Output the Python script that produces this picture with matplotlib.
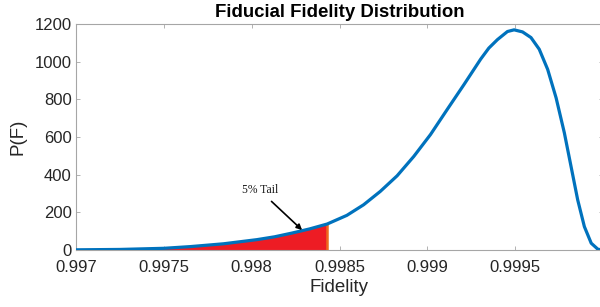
import matplotlib
matplotlib.use("Agg")
import matplotlib.pyplot as plt

# Curve
fidelity = [0.997000, 0.997250, 0.997500, 0.997650, 0.997840, 0.998030,
            0.998130, 0.998230, 0.998330, 0.998430, 0.998542, 0.998637,
            0.998732, 0.998828, 0.998923, 0.999018, 0.999113, 0.999209,
            0.999304, 0.999350, 0.999399, 0.999456, 0.999494, 0.999542,
            0.999590, 0.999637, 0.999685, 0.999733, 0.999780, 0.999818,
            0.999856, 0.999894, 0.999933, 0.999971, 1.000000]
density = [1, 3, 9, 18, 33, 55,
           70, 90, 112, 138, 184, 240,
           311, 394, 497, 613, 746, 879,
           1014, 1072, 1117, 1160, 1169, 1158,
           1128, 1066, 959, 808, 622, 444,
           266, 124, 36, 4, 0]

tail_cut = 0.99843
tail_label = "5% Tail"
x_ticks = [0.997, 0.9975, 0.998, 0.9985, 0.999, 0.9995]
x_tick_labels = ["0.997", "0.9975", "0.998", "0.9985", "0.999", "0.9995"]
y_ticks = [0, 200, 400, 600, 800, 1000, 1200]

plt.rcParams['font.family'] = ['Liberation Sans', 'DejaVu Sans']

fig = plt.figure(figsize=(6.0, 3.07), dpi=100)
ax = fig.add_axes([76/600, 57/307, (603-76)/600, (250-24)/307])

tail_x = [f for f in fidelity if f <= tail_cut]
tail_y = [p for f, p in zip(fidelity, density) if f <= tail_cut]
ax.fill_between(tail_x, 0, tail_y, color='#ED1C24', lw=0, zorder=2)
ax.plot([tail_cut, tail_cut], [0, tail_y[-1]], color='#EE6A1E', lw=1.8, zorder=3)
ax.plot(fidelity, density, color='#0072BD', lw=2.3, zorder=4,
        solid_capstyle='round', solid_joinstyle='round')

ax.text(0.998047, 318, tail_label, ha='center', va='center', fontsize=8.4,
        family='Liberation Serif', color='#1a1a1a', zorder=5)
ax.annotate('', xy=(0.998287, 106), xytext=(0.998113, 258),
            arrowprops=dict(arrowstyle='-|>', color='black', lw=1.2,
                            mutation_scale=8, shrinkA=0, shrinkB=0), zorder=5)

ax.set_xlim(0.997, 1.0)
ax.set_ylim(0, 1200)
ax.set_xticks(x_ticks)
ax.set_xticklabels(x_tick_labels)
ax.set_yticks(y_ticks)

for s in ax.spines.values():
    s.set_color('#a6a6a6')
    s.set_linewidth(0.8)
ax.tick_params(direction='in', length=3, width=0.6, color='#a6a6a6',
               labelcolor='#262626', labelsize=12, top=True, right=True)
ax.tick_params(axis='x', pad=7)
ax.tick_params(axis='y', pad=3)

ax.set_title("Fiducial Fidelity Distribution", fontsize=13.4, fontweight='bold', pad=5)
ax.set_xlabel("Fidelity", fontsize=13.5, color='#262626', labelpad=3)
ax.set_ylabel("P(F)", fontsize=13.5, color='#262626', labelpad=6)

fig.savefig("out.png", dpi=100)
